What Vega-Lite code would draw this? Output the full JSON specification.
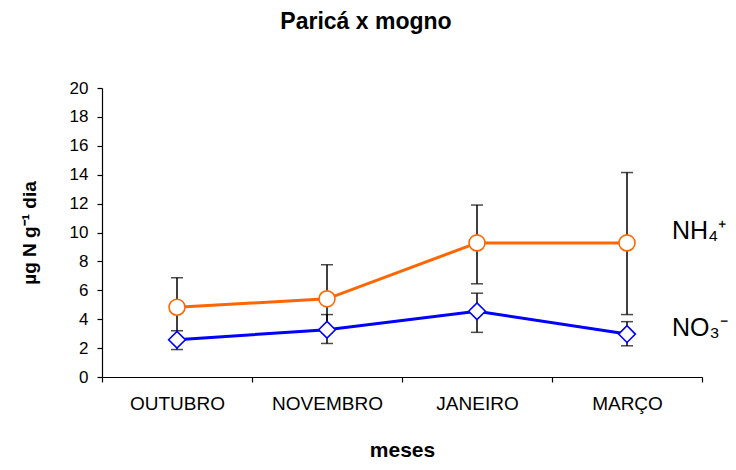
{
  "$schema": "https://vega.github.io/schema/vega-lite/v6.json",
  "width": 600,
  "height": 289,
  "autosize": "none",
  "padding": {"left": 102, "top": 88, "right": 34, "bottom": 93},
  "background": "white",
  "title": {
    "text": "Paricá x mogno",
    "font": "Liberation Sans",
    "fontSize": 23,
    "fontWeight": "bold",
    "color": "black",
    "anchor": "middle",
    "dx": -36,
    "offset": 45
  },
  "data": {
    "values": [
      {"month": "OUTUBRO", "ion": "NH4", "mean": 4.83, "lo": 2.79, "hi": 6.87},
      {"month": "NOVEMBRO", "ion": "NH4", "mean": 5.41, "lo": 3.05, "hi": 7.77},
      {"month": "JANEIRO", "ion": "NH4", "mean": 9.28, "lo": 6.45, "hi": 11.9},
      {"month": "MARÇO", "ion": "NH4", "mean": 9.28, "lo": 4.32, "hi": 14.15},
      {"month": "OUTUBRO", "ion": "NO3", "mean": 2.58, "lo": 1.9, "hi": 3.2},
      {"month": "NOVEMBRO", "ion": "NO3", "mean": 3.27, "lo": 2.32, "hi": 4.32},
      {"month": "JANEIRO", "ion": "NO3", "mean": 4.55, "lo": 3.09, "hi": 5.8},
      {"month": "MARÇO", "ion": "NO3", "mean": 2.97, "lo": 2.16, "hi": 3.83}
    ]
  },
  "encoding": {
    "x": {
      "field": "month",
      "type": "nominal",
      "sort": ["OUTUBRO", "NOVEMBRO", "JANEIRO", "MARÇO"],
      "scale": {"paddingInner": 0, "paddingOuter": 0},
      "axis": {
        "title": "meses",
        "labelAngle": 0,
        "labelFontSize": 19,
        "labelPadding": 12,
        "tickBand": "extent",
        "tickSize": 5,
        "titleFontSize": 21,
        "titleFontWeight": "bold",
        "titlePadding": 26
      }
    }
  },
  "layer": [
    {
      "mark": {"type": "rule", "color": "black", "strokeWidth": 1.5},
      "encoding": {
        "y": {
          "field": "lo",
          "type": "quantitative",
          "title": "µg N g⁻¹ dia",
          "scale": {"domain": [0, 20], "nice": false, "zero": true},
          "axis": {"tickCount": 11, "values": [0, 2, 4, 6, 8, 10, 12, 14, 16, 18, 20], "labelOverlap": false, "labelFontSize": 17}
        },
        "y2": {"field": "hi"}
      }
    },
    {
      "mark": {"type": "tick", "color": "black", "thickness": 1.5, "size": 12},
      "encoding": {"y": {"field": "lo", "type": "quantitative", "title": "µg N g⁻¹ dia", "axis": {"tickCount": 11, "values": [0, 2, 4, 6, 8, 10, 12, 14, 16, 18, 20], "labelOverlap": false, "labelFontSize": 17}}}
    },
    {
      "mark": {"type": "tick", "color": "black", "thickness": 1.5, "size": 12},
      "encoding": {"y": {"field": "hi", "type": "quantitative", "title": "µg N g⁻¹ dia", "axis": {"tickCount": 11, "values": [0, 2, 4, 6, 8, 10, 12, 14, 16, 18, 20], "labelOverlap": false, "labelFontSize": 17}}}
    },
    {
      "mark": {"type": "line", "strokeWidth": 3},
      "encoding": {
        "y": {"field": "mean", "type": "quantitative", "title": "µg N g⁻¹ dia", "axis": {"tickCount": 11, "values": [0, 2, 4, 6, 8, 10, 12, 14, 16, 18, 20], "labelOverlap": false, "labelFontSize": 17}},
        "color": {
          "field": "ion",
          "type": "nominal",
          "scale": {"domain": ["NH4", "NO3"], "range": ["#FF6600", "#0000FF"]},
          "legend": null
        }
      }
    },
    {
      "mark": {"type": "point", "filled": true, "fill": "white", "strokeWidth": 1.6, "opacity": 1},
      "encoding": {
        "y": {"field": "mean", "type": "quantitative", "title": "µg N g⁻¹ dia", "axis": {"tickCount": 11, "values": [0, 2, 4, 6, 8, 10, 12, 14, 16, 18, 20], "labelOverlap": false, "labelFontSize": 17}},
        "stroke": {
          "field": "ion",
          "type": "nominal",
          "scale": {"domain": ["NH4", "NO3"], "range": ["#FF6600", "#0000FF"]},
          "legend": null
        },
        "shape": {
          "field": "ion",
          "type": "nominal",
          "scale": {"domain": ["NH4", "NO3"], "range": ["circle", "diamond"]},
          "legend": null
        },
        "size": {
          "field": "ion",
          "type": "nominal",
          "scale": {"domain": ["NH4", "NO3"], "range": [256, 280]},
          "legend": null
        }
      }
    },
    {
      "transform": [{"filter": "datum.ion == 'NH4' && datum.month == 'MARÇO'"}],
      "mark": {"type": "text", "text": "NH₄⁺", "align": "left", "baseline": "middle", "dx": 45, "dy": -12, "fontSize": 25, "font": "Liberation Sans", "color": "black"},
      "encoding": {"y": {"field": "mean", "type": "quantitative", "title": "µg N g⁻¹ dia", "axis": {"tickCount": 11, "values": [0, 2, 4, 6, 8, 10, 12, 14, 16, 18, 20], "labelOverlap": false, "labelFontSize": 17}}}
    },
    {
      "transform": [{"filter": "datum.ion == 'NO3' && datum.month == 'MARÇO'"}],
      "mark": {"type": "text", "text": "NO₃⁻", "align": "left", "baseline": "middle", "dx": 45, "dy": -6, "fontSize": 25, "font": "Liberation Sans", "color": "black"},
      "encoding": {"y": {"field": "mean", "type": "quantitative", "title": "µg N g⁻¹ dia", "axis": {"tickCount": 11, "values": [0, 2, 4, 6, 8, 10, 12, 14, 16, 18, 20], "labelOverlap": false, "labelFontSize": 17}}}
    }
  ],
  "config": {
    "view": {"stroke": null},
    "font": "Liberation Sans",
    "axis": {
      "domainColor": "black",
      "tickColor": "black",
      "labelColor": "black",
      "titleColor": "black",
      "labelFont": "Liberation Sans",
      "titleFont": "Liberation Sans",
      "domainWidth": 1.2,
      "tickWidth": 1.2
    },
    "axisY": {
      "grid": false,
      "labelOverlap": false,
      "labelFontSize": 17,
      "labelPadding": 9,
      "tickSize": 5,
      "titleFontSize": 19,
      "titleFontWeight": "bold",
      "titlePadding": 30
    }
  }
}
